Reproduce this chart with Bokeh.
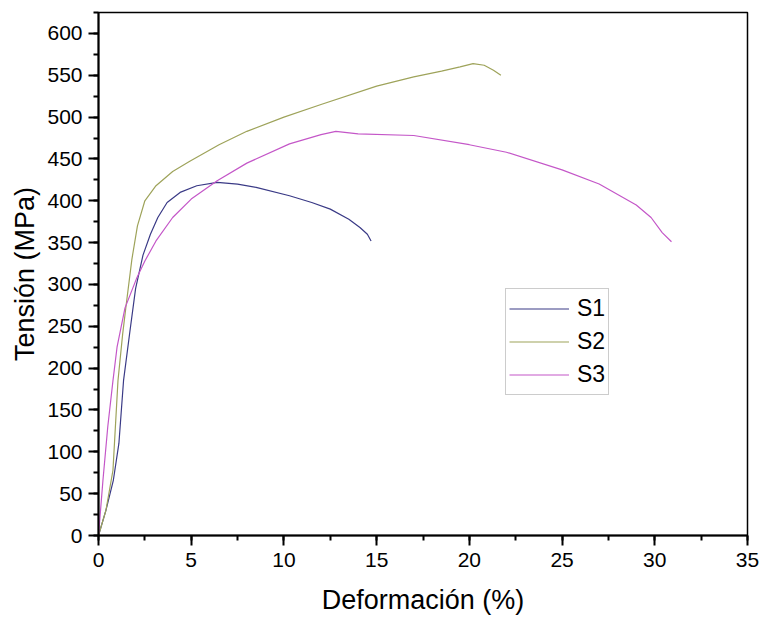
from bokeh.plotting import figure
from bokeh.models import Range1d, SingleIntervalTicker, Legend, LegendItem
from bokeh.embed import file_html
from bokeh.resources import INLINE

# Stress-strain curves for three specimens (strain %, stress MPa)
s1_strain = [0, 0.4, 0.8, 1.1, 1.35, 1.7, 2.0, 2.4, 2.8, 3.2, 3.7, 4.4, 5.3, 6.4, 7.5, 8.5, 10.3, 11.5, 12.5, 13.5, 14.1, 14.5, 14.7]
s1_stress = [0, 30, 66, 110, 185, 245, 295, 335, 360, 380, 398, 410, 418, 422, 420, 416, 406, 398, 390, 378, 368, 360, 352]

s2_strain = [0, 0.4, 0.78, 1.05, 1.3, 1.5, 1.8, 2.1, 2.5, 3.1, 4.0, 4.9, 6.5, 8.0, 10.0, 12.0, 15.0, 17.0, 18.5, 19.5, 20.2, 20.8, 21.3, 21.7]
s2_stress = [0, 30, 78, 185, 240, 277, 330, 370, 400, 418, 435, 447, 467, 483, 500, 515, 537, 548, 555, 560, 564, 562, 556, 550]

s3_strain = [0, 0.24, 0.5, 0.78, 1.0, 1.43, 2.05, 2.5, 3.1, 4.0, 5.0, 6.4, 8.0, 10.3, 12.0, 12.8, 14.0, 17.0, 20.0, 22.0, 25.0, 27.0, 29.0, 29.8, 30.4, 30.9]
s3_stress = [0, 66, 130, 185, 225, 272, 307, 328, 352, 380, 402, 424, 445, 468, 479, 483, 480, 478, 467, 458, 437, 420, 395, 380, 362, 351]

labels = ["S1", "S2", "S3"]
colors = ["#3a3a86", "#9ea35a", "#c457c8"]

p = figure(width=761, height=618, output_backend="svg", toolbar_location=None,
           x_range=Range1d(0, 35), y_range=Range1d(0, 625))
p.min_border_left = 98
p.min_border_bottom = 83
p.min_border_top = 12
p.min_border_right = 14

p.grid.visible = False
p.outline_line_color = "black"
p.outline_line_width = 1.5
p.background_fill_color = "white"
p.border_fill_color = "white"

p.xaxis.ticker = SingleIntervalTicker(interval=5, num_minor_ticks=2)
p.yaxis.ticker = SingleIntervalTicker(interval=50, num_minor_ticks=2)

for ax in (p.xaxis, p.yaxis):
    ax.axis_line_width = 2
    ax.axis_line_color = "black"
    ax.major_tick_line_width = 2
    ax.minor_tick_line_width = 2
    ax.major_tick_out = 10
    ax.major_tick_in = 0
    ax.minor_tick_out = 5
    ax.minor_tick_in = 0
    ax.major_label_text_font = "Liberation Sans"
    ax.major_label_text_font_size = "21px"
    ax.major_label_text_color = "black"
    ax.axis_label_text_font = "Liberation Sans"
    ax.axis_label_text_font_size = "27px"
    ax.axis_label_text_font_style = "normal"
    ax.axis_label_text_color = "black"

p.xaxis.axis_label = "Deformación (%)"
p.yaxis.axis_label = "Tensión (MPa)"
p.xaxis.major_label_standoff = 7
p.yaxis.major_label_standoff = 6
p.xaxis.axis_label_standoff = 15
p.yaxis.axis_label_standoff = 4

renderers = []
for xs, ys, c in zip([s1_strain, s2_strain, s3_strain], [s1_stress, s2_stress, s3_stress], colors):
    r = p.line(xs, ys, line_color=c, line_width=1.2)
    renderers.append(r)

legend = Legend(items=[LegendItem(label=l, renderers=[r]) for l, r in zip(labels, renderers)],
                location=(407, 140))
legend.label_text_font = "Liberation Sans"
legend.label_text_font_size = "23px"
legend.label_text_color = "black"
legend.border_line_color = "#999999"
legend.border_line_width = 1
legend.glyph_width = 60
legend.label_standoff = 8
legend.spacing = 0
legend.padding = 3
legend.margin = 0
legend.label_height = 33
legend.glyph_height = 33
p.add_layout(legend, "center")

open("out.html", "w").write(file_html(p, INLINE))
